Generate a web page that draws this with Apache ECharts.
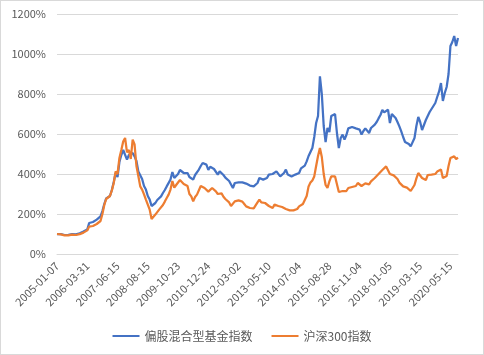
<!DOCTYPE html>
<html>
<head>
<meta charset="utf-8">
<script src="https://cdn.jsdelivr.net/npm/echarts@6/dist/echarts.min.js"></script>
<style>
  html, body { margin: 0; padding: 0; background: #fff; }
  #chart { width: 482px; height: 353px; border: 1px solid #D9D9D9; }
</style>
</head>
<body>
<div id="chart"></div>
<script>
// Tick labels shown on the category axis (every 16th point)
const tickLabels = ['2005-01-07', '2006-03-31', '2007-06-15', '2008-08-15', '2009-10-23', '2010-12-24', '2012-03-02',
  '2013-05-10', '2014-07-04', '2015-08-28', '2016-11-04', '2018-01-05', '2019-03-15', '2020-05-15'];

// 偏股混合型基金指数 (% of start)
const fundIndex = [
  100, 102, 100, 98, 95, 90, 96, 98, 100, 101,
  98, 100, 104, 108, 112, 116, 122, 155, 162, 160,
  165, 172, 180, 188, 215, 250, 278, 283, 290, 320,
  360, 405, 385, 460, 495, 520, 530, 472, 495, 495,
  505, 488, 465, 413, 405, 375, 340, 322, 290, 272,
  240, 245, 255, 270, 280, 288, 305, 320, 338, 345,
  372, 410, 380, 390, 400, 420, 420, 405, 400, 405,
  385, 380, 372, 395, 405, 422, 440, 455, 455, 447,
  420, 436, 438, 425, 422, 397, 413, 413, 395, 382,
  375, 365, 355, 330, 355, 362, 358, 364, 358, 355,
  352, 347, 342, 343, 338, 330, 355, 380, 388, 372,
  380, 380, 397, 405, 400, 400, 413, 410, 388, 397,
  405, 422, 397, 400, 388, 380, 397, 390, 405, 428,
  438, 442, 463, 490, 510, 530, 585, 655, 690, 888,
  800, 640, 560, 630, 610, 690, 688, 700, 605, 530,
  580, 597, 572, 595, 628, 630, 635, 630, 628, 638,
  622, 597, 615, 628, 625, 605, 630, 640, 647, 660,
  678, 695, 720, 708, 715, 722, 655, 700, 690, 680,
  660, 638, 613, 585, 560, 555, 550, 538, 545, 580,
  640, 685, 660, 620, 645, 670, 665, 710, 725, 730,
  755, 785, 813, 855, 765, 805, 835, 900, 1040, 1060,
  1090, 1040, 1080];

// 沪深300指数 (% of start)
const hs300 = [
  100, 100, 98, 97, 93, 87, 93, 95, 97, 98,
  95, 96, 99, 103, 107, 111, 118, 137, 142, 140,
  144, 150, 157, 165, 200, 245, 275, 283, 290, 318,
  355, 413, 400, 480, 520, 562, 580, 508, 520, 475,
  572, 548, 440, 390, 338, 322, 298, 272, 247, 222,
  175, 185, 197, 205, 222, 230, 245, 262, 280, 297,
  322, 365, 332, 345, 350, 370, 365, 350, 345, 340,
  300, 288, 263, 285, 297, 300, 340, 340, 330, 322,
  312, 320, 330, 335, 313, 300, 310, 303, 286, 275,
  265, 258, 240, 250, 263, 272, 268, 270, 262, 250,
  238, 230, 230, 222, 228, 225, 258, 272, 258, 263,
  255, 262, 240, 235, 230, 247, 247, 240, 238, 235,
  225, 225, 222, 218, 218, 218, 222, 225, 238, 247,
  250, 255, 290, 338, 357, 368, 388, 440, 490, 530,
  485, 400, 345, 330, 363, 388, 380, 388, 380, 310,
  318, 315, 320, 315, 330, 325, 335, 345, 340, 355,
  347, 340, 347, 353, 352, 348, 363, 372, 380, 388,
  400, 410, 420, 428, 438, 447, 400, 405, 393, 390,
  375, 357, 347, 338, 335, 332, 328, 315, 322, 345,
  378, 405, 395, 380, 375, 370, 395, 390, 397, 400,
  400, 412, 422, 422, 380, 385, 390, 440, 480, 482,
  488, 475, 482];

const seriesNames = ['偏股混合型基金指数', '沪深300指数'];
const seriesColors = ['#4472C4', '#ED7D31'];

// Category dates: tick dates, with intermediate dates between them
const STEP = 16;
function buildCategories(n) {
  const t = tickLabels.map(s => Date.parse(s + 'T00:00:00Z'));
  const cats = [];
  for (let i = 0; i < n; i++) {
    const k = Math.floor(i / STEP), j = i % STEP;
    if (j === 0 && k < tickLabels.length) { cats.push(tickLabels[k]); continue; }
    const t0 = t[Math.min(k, t.length - 1)];
    const t1 = k + 1 < t.length ? t[k + 1] : t0 + (t[t.length - 1] - t[t.length - 2]);
    const d = new Date(t0 + (t1 - t0) * j / STEP);
    cats.push(d.toISOString().slice(0, 10));
  }
  return cats;
}
const categories = buildCategories(fundIndex.length);

const chart = echarts.init(document.getElementById('chart'), null, { renderer: 'canvas' });
const font = "'Noto Sans CJK SC', 'Noto Sans', sans-serif";
chart.setOption({
  animation: false,
  backgroundColor: '#fff',
  grid: { left: 56, right: 25, top: 13, bottom: 100, containLabel: false },
  legend: {
    data: seriesNames,
    top: 324,
    left: 'center',
    icon: 'rect',
    itemWidth: 27,
    itemHeight: 2,
    itemGap: 19,
    textStyle: { fontFamily: font, fontSize: 12, color: '#595959' }
  },
  xAxis: {
    type: 'category',
    data: categories,
    boundaryGap: false,
    axisLine: { show: true, lineStyle: { color: '#D9D9D9', width: 1 } },
    axisTick: { show: false },
    splitLine: { show: false },
    axisLabel: {
      interval: STEP - 1,
      rotate: 45,
      margin: 10,
      fontFamily: font,
      fontSize: 11,
      color: '#595959'
    }
  },
  yAxis: {
    type: 'value',
    min: 0,
    max: 1200,
    interval: 200,
    axisLine: { show: false },
    axisTick: { show: false },
    splitLine: { lineStyle: { color: '#D9D9D9', width: 1 } },
    axisLabel: {
      formatter: v => String(v) + '%',
      margin: 11,
      fontFamily: font,
      fontSize: 11,
      color: '#595959'
    }
  },
  series: [
    {
      name: seriesNames[0], type: 'line', data: fundIndex, symbol: 'none',
      lineStyle: { width: 2.25, color: seriesColors[0] }, itemStyle: { color: seriesColors[0] }
    },
    {
      name: seriesNames[1], type: 'line', data: hs300, symbol: 'none',
      lineStyle: { width: 2.25, color: seriesColors[1] }, itemStyle: { color: seriesColors[1] }
    }
  ]
});
</script>
</body>
</html>
